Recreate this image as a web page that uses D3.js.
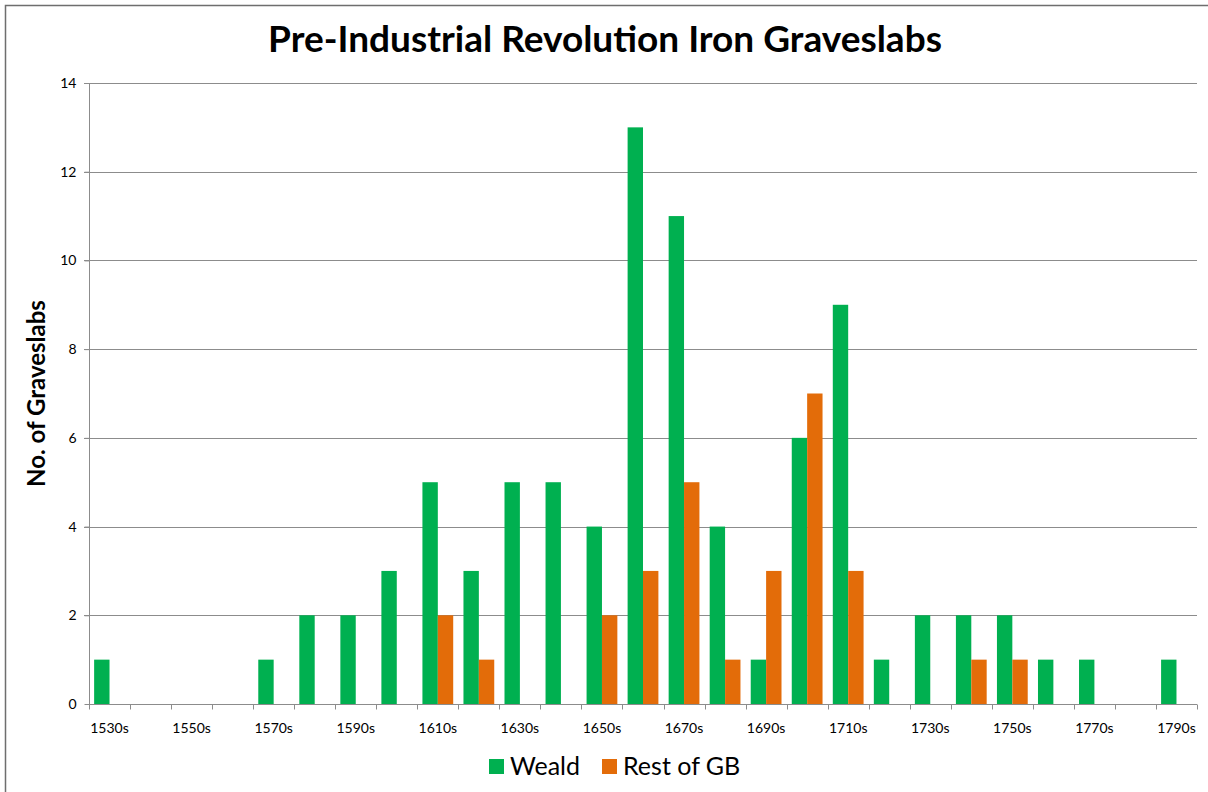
<!DOCTYPE html>
<meta charset="utf-8">
<style>
    body { margin: 0; background: #fff; }
    text { font-family: Lato, "Open Sans", sans-serif; fill: #000; }
    .grid line { stroke: #8c8c8c; stroke-width: 1; }
    .axis path, .axis line { stroke: #8c8c8c; }
</style>
<body>
<script src="https://d3js.org/d3.v7.min.js"></script>
<script>
    // decades shown on the x axis
    let decades = ["1530s", "1540s", "1550s", "1560s", "1570s", "1580s", "1590s", "1600s", "1610s",
        "1620s", "1630s", "1640s", "1650s", "1660s", "1670s", "1680s", "1690s", "1700s", "1710s",
        "1720s", "1730s", "1740s", "1750s", "1760s", "1770s", "1780s", "1790s"];
    let weald = [1, 0, 0, 0, 1, 2, 2, 3, 5, 3, 5, 5, 4, 13, 11, 4, 1, 6, 9, 1, 2, 2, 2, 1, 1, 0, 1];
    let restOfGB = [0, 0, 0, 0, 0, 0, 0, 0, 2, 1, 0, 0, 2, 3, 5, 1, 3, 7, 3, 0, 0, 1, 1, 0, 0, 0, 0];
    let yTicks = [0, 2, 4, 6, 8, 10, 12, 14];
    let seriesNames = ["Weald", "Rest of GB"];
    let colors = ["#00b050", "#e36c09"];

    let width = 1208, height = 792;
    let margin = { top: 83, right: 11, bottom: 88, left: 89 };
    let plotW = width - margin.left - margin.right,
        plotH = height - margin.top - margin.bottom;

    let svg = d3.select("body").append("svg")
        .attr("width", width)
        .attr("height", height);

    // outer chart border
    svg.append("rect")
        .attr("x", 5.5).attr("y", 5.5)
        .attr("width", width + 10).attr("height", height + 10)
        .attr("fill", "none")
        .attr("stroke", "#6e6e6e")
        .attr("stroke-width", 1.5);

    let g = svg.append("g")
        .attr("transform", "translate(" + margin.left + "," + margin.top + ")");

    let x0 = d3.scaleBand()
        .domain(decades)
        .range([0, plotW])
        .paddingInner(0.25)
        .paddingOuter(0.125);

    let xCat = d3.scaleBand().domain(decades).range([0, plotW]);

    let x1 = d3.scaleBand()
        .domain(seriesNames)
        .range([0, x0.bandwidth()]);

    let y = d3.scaleLinear()
        .domain([0, 14])
        .range([plotH, 0]);

    // gridlines
    g.append("g")
        .attr("class", "grid")
        .selectAll("line")
        .data(yTicks.filter(function(d) { return d > 0; }))
        .enter().append("line")
        .attr("x1", -5)
        .attr("x2", plotW)
        .attr("y1", function(d) { return Math.round(y(d)) + 0.5; })
        .attr("y2", function(d) { return Math.round(y(d)) + 0.5; });

    // y axis
    let yAxis = g.append("g")
        .attr("class", "axis")
        .attr("transform", "translate(0.5,0)")
        .call(d3.axisLeft(y).tickValues(yTicks).tickSize(5).tickSizeOuter(0));
    yAxis.select(".domain").attr("d", "M0," + plotH + "V0");
    yAxis.selectAll("text")
        .style("font-size", "14px")
        .attr("x", -13);

    // bars
    let rows = decades.map(function(d, i) {
        return { decade: d, values: [weald[i], restOfGB[i]] };
    });

    let groups = g.selectAll(".decade")
        .data(rows)
        .enter().append("g")
        .attr("class", "decade")
        .attr("transform", function(d) { return "translate(" + x0(d.decade) + ",0)"; });

    groups.selectAll("rect")
        .data(function(d) {
            return d.values.map(function(v, i) { return { name: seriesNames[i], value: v }; });
        })
        .enter().append("rect")
        .filter(function(d) { return d.value > 0; })
        .attr("x", function(d) { return x1(d.name); })
        .attr("width", x1.bandwidth())
        .attr("y", function(d) { return y(d.value); })
        .attr("height", function(d) { return plotH - y(d.value); })
        .attr("fill", function(d, i) { return colors[seriesNames.indexOf(d.name)]; });

    // x axis: ticks between categories, labels on every other decade
    let xAxis = g.append("g")
        .attr("class", "axis")
        .attr("transform", "translate(0," + (Math.round(plotH) + 0.5) + ")");
    xAxis.append("line")
        .attr("x1", 0).attr("x2", plotW);
    xAxis.selectAll(".tick")
        .data(decades.concat(["end"]))
        .enter().append("line")
        .attr("x1", function(d, i) { return Math.round(i * xCat.step()) + 0.5; })
        .attr("x2", function(d, i) { return Math.round(i * xCat.step()) + 0.5; })
        .attr("y1", 0).attr("y2", 5);
    xAxis.selectAll("text")
        .data(decades.filter(function(d, i) { return i % 2 === 0; }))
        .enter().append("text")
        .attr("x", function(d) { return xCat(d) + xCat.bandwidth() / 2; })
        .attr("y", 28)
        .attr("text-anchor", "middle")
        .style("font-size", "14px")
        .text(function(d) { return d; });

    // title
    svg.append("text")
        .attr("x", 605)
        .attr("y", 52)
        .attr("text-anchor", "middle")
        .style("font-size", "37px")
        .style("font-weight", "bold")
        .text("Pre-Industrial Revolution Iron Graveslabs");

    // y axis title
    svg.append("text")
        .attr("transform", "translate(45," + (margin.top + plotH / 2) + ") rotate(-90)")
        .attr("text-anchor", "middle")
        .style("font-size", "24px")
        .style("font-weight", "bold")
        .text("No. of Graveslabs");

    // legend
    let legendX = [489, 602];
    let legend = svg.selectAll(".legend")
        .data(seriesNames)
        .enter().append("g")
        .attr("class", "legend")
        .attr("transform", function(d, i) { return "translate(" + legendX[i] + ",759)"; });
    legend.append("rect")
        .attr("width", 15).attr("height", 15)
        .attr("fill", function(d, i) { return colors[i]; });
    legend.append("text")
        .attr("x", 21)
        .attr("y", 16)
        .style("font-size", "25px")
        .text(function(d) { return d; });
</script>
</body>
